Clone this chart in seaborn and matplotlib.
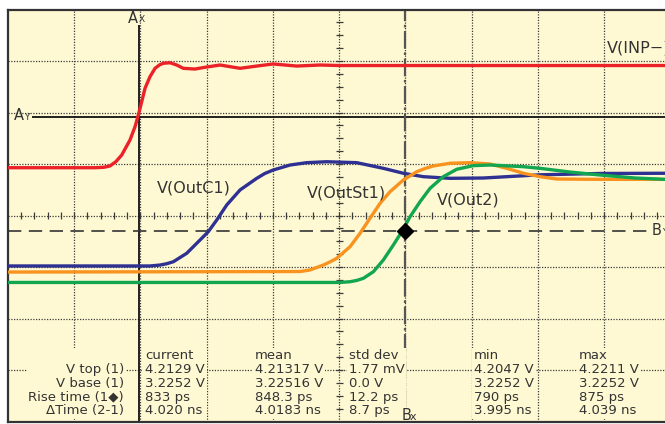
import numpy as np
import pandas as pd
import matplotlib
matplotlib.use("Agg")
import matplotlib.pyplot as plt
import seaborn as sns

# ---- data: time in ns (1 ns/div), level in V (0.5 V/div) ----
red_t = [0.0, 1.317, 1.45, 1.543, 1.634, 1.720, 1.845, 1.921, 1.971, 2.022, 2.072, 2.147, 2.223,
         2.29, 2.348, 2.449, 2.550, 2.650, 2.826, 2.977, 3.204, 3.506, 3.758, 4.004, 4.362,
         4.713, 5.015, 9.92]
red_v = [3.214, 3.214, 3.218, 3.231, 3.274, 3.337, 3.483, 3.612, 3.726, 3.855, 3.985, 4.098, 4.179,
         4.212, 4.228, 4.233, 4.211, 4.179, 4.172, 4.189, 4.211, 4.179, 4.201, 4.221, 4.201,
         4.211, 4.206, 4.206]

blue_t = [0.0, 2.147, 2.298, 2.40, 2.499, 2.701, 2.902, 3.027, 3.154, 3.305, 3.506, 3.758, 3.88,
          4.008, 4.260, 4.512, 4.814, 5.267, 5.669, 5.971, 6.272, 6.675, 7.178, 8.030, 8.940, 9.92]
blue_v = [2.260, 2.260, 2.269, 2.282, 2.301, 2.383, 2.512, 2.593, 2.706, 2.852, 2.998, 3.111, 3.158,
          3.192, 3.240, 3.263, 3.272, 3.263, 3.208, 3.160, 3.127, 3.111, 3.114, 3.145, 3.158, 3.160]

orange_t = [0.0, 4.411, 4.562, 4.763, 4.86, 4.965, 5.166, 5.317, 5.468, 5.619, 5.770, 5.971, 6.173,
            6.30, 6.423, 6.675, 6.977, 7.279, 7.531, 7.782, 8.034, 8.286, 8.940, 9.92]
orange_v = [2.201, 2.206, 2.221, 2.269, 2.298, 2.334, 2.447, 2.577, 2.723, 2.868, 2.981, 3.095, 3.175,
            3.207, 3.231, 3.257, 3.263, 3.250, 3.208, 3.160, 3.127, 3.104, 3.101, 3.101]

green_t = [0.0, 5.015, 5.166, 5.27, 5.367, 5.518, 5.669, 5.820, 5.947, 6.072, 6.223, 6.374, 6.574,
           6.777, 7.027, 7.279, 7.782, 8.034, 8.487, 8.940, 9.468, 9.92]
green_v = [2.100, 2.100, 2.107, 2.120, 2.140, 2.204, 2.318, 2.464, 2.593, 2.738, 2.884, 3.014, 3.127,
           3.199, 3.234, 3.240, 3.224, 3.208, 3.172, 3.143, 3.114, 3.101]

signals = ["V(INP−)", "V(OutC1)", "V(OutSt1)", "V(Out2)"]
colors = ["#EC2229", "#2E3192", "#F7931E", "#12A650"]

# cursors
ax_cursor, bx_cursor = 1.98, 6.0
ay_cursor, by_cursor = 3.71, 2.60

# measurement table
row_labels = ["V top (1)", "V base (1)", "Rise time (1◆)", "ΔTime (2-1)"]
col_heads = ["current", "mean", "std dev", "min", "max"]
col_current = ["4.2129 V", "3.2252 V", "833 ps", "4.020 ns"]
col_mean = ["4.21317 V", "3.22516 V", "848.3 ps", "4.0183 ns"]
col_std = ["1.77 mV", "0.0 V", "12.2 ps", "8.7 ps"]
col_min = ["4.2047 V", "3.2252 V", "790 ps", "3.995 ns"]
col_max = ["4.2211 V", "3.2252 V", "875 ps", "4.039 ns"]

# ---- figure ----
sns.set_style("white")
plt.rcParams["font.family"] = ["DejaVu Sans"]
BG = "#FFF9D3"
INK = "#333333"

fig = plt.figure(figsize=(6.65, 4.24), dpi=100)
ax = fig.add_axes([7.75 / 665, 2.5 / 424, 1 - 7.75 / 665, 412 / 424])
ax.set_facecolor(BG)
X0, X1 = 0.0, 9.92
Y0, Y1 = 0.75, 4.75
ax.set_xlim(X0, X1)
ax.set_ylim(Y0, Y1)
ax.set_xticks([])
ax.set_yticks([])
for s in ["top", "left", "bottom"]:
    ax.spines[s].set_color(INK)
    ax.spines[s].set_linewidth(1.6)
ax.spines["right"].set_visible(False)

dot = (0, (1, 1.2))
gcol = "#3C3C3C"
for gx in range(1, 10):
    ax.axvline(gx, color=gcol, lw=0.9, ls=dot, zorder=1)
for k in range(1, 8):
    ax.axhline(0.75 + 0.5 * k, color=gcol, lw=0.9, ls=dot, zorder=1)

# centre tick marks
yt = 0.75 + 0.125 * np.arange(1, 32)
ax.hlines(yt, 5 - 0.053, 5 + 0.053, color=gcol, lw=0.9, zorder=1)
xt = 0.2 * np.arange(1, 50)
ax.vlines(xt, 2.75 - 0.03, 2.75 + 0.03, color=gcol, lw=0.9, zorder=1)

# cursors
ax.vlines(ax_cursor, Y0, 4.60, color="#111111", lw=1.3, zorder=2)
ax.hlines(ay_cursor, 0.366, X1, color="#111111", lw=1.3, zorder=2)
ax.vlines(bx_cursor, 0.89, Y1, color="#555555", lw=1.6, linestyles=[(0, (8, 1.6, 1.2, 1.6))], zorder=2)
ax.hlines(by_cursor, X0, 9.69, color="#333333", lw=1.2, linestyles=[(0, (8, 4.5))], zorder=2)

# curves
frames = []
for name, t, v in zip(signals, [red_t, blue_t, orange_t, green_t],
                      [red_v, blue_v, orange_v, green_v]):
    frames.append(pd.DataFrame({"t": t, "v": v, "signal": name}))
df = pd.concat(frames, ignore_index=True)
sns.lineplot(data=df, x="t", y="v", hue="signal", hue_order=signals,
             palette=dict(zip(signals, colors)), estimator=None, sort=False,
             legend=False, linewidth=2.4, ax=ax, zorder=3)
for ln in ax.get_lines():
    ln.set_solid_joinstyle("round")
    ln.set_solid_capstyle("round")
ax.set_xlabel("")
ax.set_ylabel("")
ax.set_xlim(X0, X1)
ax.set_ylim(Y0, Y1)

ax.plot([bx_cursor], [by_cursor], marker="D", color="black", markersize=8, zorder=5, ls="none")

# curve labels
lab_fs = 11.5
ax.text(9.041, 4.376, signals[0], fontsize=lab_fs, color=INK, va="center", ha="left", zorder=6)
ax.text(2.248, 3.014, signals[1], fontsize=lab_fs, color=INK, va="center", ha="left", zorder=6)
ax.text(4.512, 2.966, signals[2], fontsize=lab_fs, color=INK, va="center", ha="left", zorder=6)
ax.text(6.475, 2.900, signals[3], fontsize=lab_fs, color=INK, va="center", ha="left", zorder=6)

# cursor labels
big, small = 10.5, 6.5
ax.text(1.966, 4.616, "A", fontsize=big, color=INK, ha="right", va="baseline")
ax.text(1.975, 4.632, "X", fontsize=small, color=INK, ha="left", va="baseline")
ax.text(0.094, 3.677, "A", fontsize=big, color=INK, ha="left", va="baseline")
ax.text(0.245, 3.677, "Y", fontsize=small, color=INK, ha="left", va="baseline")
ax.text(9.725, 2.561, "B", fontsize=big, color=INK, ha="left", va="baseline")
ax.text(9.87, 2.561, "Y", fontsize=small, color=INK, ha="left", va="baseline")

# table
tfs = 9.5
box = dict(boxstyle="square,pad=0.12", fc=BG, ec="none")
top_y = 1.45
ax.text(1.755, top_y, "\n".join([" "] + row_labels), fontsize=tfs, color=INK, ha="right",
        va="top", linespacing=1.07, bbox=box, zorder=6)
col_x = [2.071, 3.732, 5.151, 7.038, 8.623]
for cx, head, vals in zip(col_x, col_heads, [col_current, col_mean, col_std, col_min, col_max]):
    ax.text(cx, top_y, "\n".join([head] + vals), fontsize=tfs, color=INK, ha="left",
            va="top", linespacing=1.07, bbox=box, zorder=6)

ax.text(5.951, 0.765, "B", fontsize=big, color=INK, ha="left", va="baseline", zorder=8)
ax.text(6.07, 0.765, "x", fontsize=8, color=INK, ha="left", va="baseline", zorder=8)

fig.savefig("out.png", dpi=100, facecolor="white")
